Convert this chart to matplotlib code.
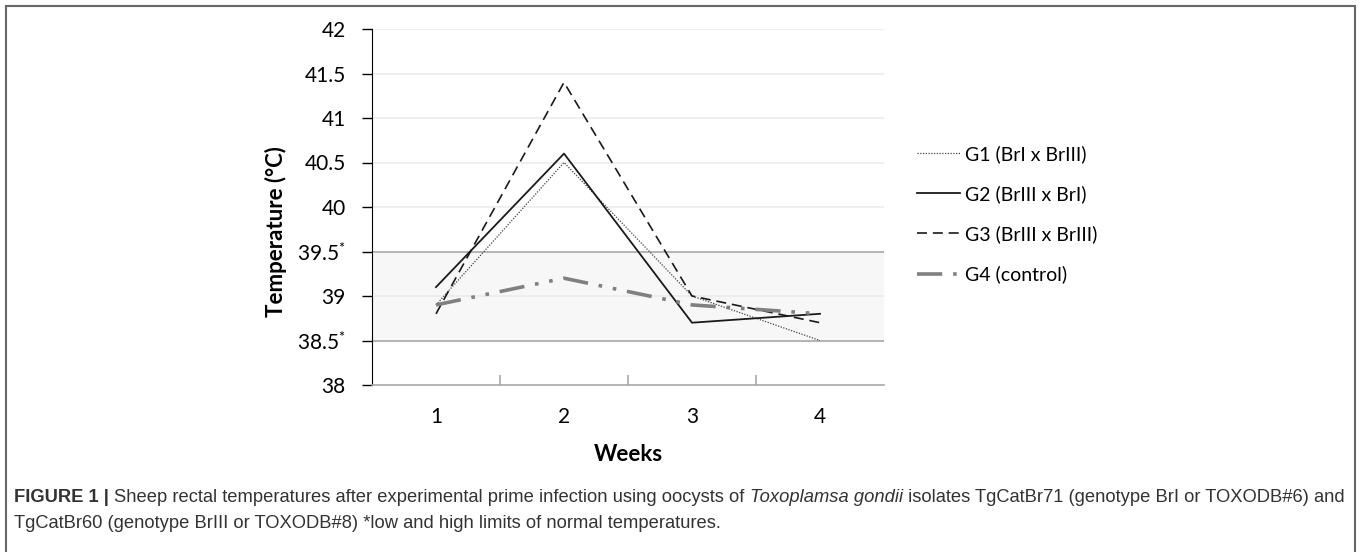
import matplotlib
matplotlib.use("Agg")
import matplotlib.pyplot as plt
from matplotlib.patches import Rectangle

# chart values
weeks = [1, 2, 3, 4]
g1 = [38.9, 40.5, 39.0, 38.5]
g2 = [39.1, 40.6, 38.7, 38.8]
g3 = [38.8, 41.4, 39.0, 38.7]
g4 = [38.9, 39.2, 38.9, 38.8]
labels = ["G1 (BrI x BrIII)", "G2 (BrIII x BrI)", "G3 (BrIII x BrIII)", "G4 (control)"]
yticks = [38, 38.5, 39, 39.5, 40, 40.5, 41, 41.5, 42]
ytick_labels = ["38", "38.5$^{*}$", "39", "39.5$^{*}$", "40", "40.5", "41", "41.5", "42"]
normal_low, normal_high = 38.5, 39.5

plt.rcParams['font.family'] = ['Lato', 'DejaVu Sans']
plt.rcParams['mathtext.default'] = 'regular'

W, H = 1360, 552
fig = plt.figure(figsize=(W / 100, H / 100), dpi=100)
ax = fig.add_axes([372 / W, 1 - 385 / H, 512 / W, 356 / H])

# normal range band
ax.axhspan(normal_low, normal_high, color='#f7f7f7', zorder=0)
for y in yticks:
    if y in (normal_low, normal_high):
        ax.axhline(y, color='#a8a8a8', lw=1.2, zorder=1)
    elif y != 38:
        ax.axhline(y, color='#ececec', lw=1.2, zorder=1)

ax.plot(weeks, g1, color='#444444', lw=0.9, linestyle=(0, (1, 1.2)), label=labels[0], zorder=3)
ax.plot(weeks, g2, color='#1a1a1a', lw=1.3, linestyle='-', label=labels[1], zorder=3)
ax.plot(weeks, g3, color='#1a1a1a', lw=1.2, linestyle=(0, (6, 3.5)), label=labels[2], zorder=3)
ax.plot(weeks, g4, color='#808080', lw=2.6, linestyle=(0, (7, 3, 1, 3, 1, 3)), label=labels[3], zorder=3)

ax.set_xlim(0.5, 4.5)
ax.set_ylim(38, 42)
ax.set_yticks(yticks)
ax.set_yticklabels(ytick_labels)
ax.set_xticks(weeks)
ax.set_xticks([1.5, 2.5, 3.5], minor=True)
ax.tick_params(axis='x', which='major', length=0, pad=16, labelsize=15)
ax.tick_params(axis='x', which='minor', direction='in', length=7, color='#a8a8a8', width=1.2)
ax.tick_params(axis='y', direction='out', length=7, width=1, labelsize=15, pad=12)

for side in ('top', 'right'):
    ax.spines[side].set_visible(False)
ax.spines['left'].set_color('black')
ax.spines['bottom'].set_color('#a8a8a8')
ax.spines['bottom'].set_linewidth(1.2)

ax.set_xlabel('Weeks', fontsize=16, fontweight='bold')
ax.xaxis.set_label_coords(0.5, -0.165)
ax.set_ylabel('Temperature (°C)', fontsize=16, fontweight='bold')
ax.yaxis.set_label_coords(-0.166, 0.43)

leg = ax.legend(loc='center left', bbox_to_anchor=(1.064, 0.48), frameon=False,
                borderpad=0, borderaxespad=0,
                fontsize=14, handlelength=2.2, labelspacing=1.15, handletextpad=0.3)

# outer frame
fig.patches.append(Rectangle((6 / W, -0.05), 1349 / W, 1 - 6 / H + 0.05,
                             transform=fig.transFigure, fill=False,
                             edgecolor='#666666', lw=1.5))

# caption, written piece by piece so the italic name sits inline
cap_font = ['Liberation Sans', 'DejaVu Sans']
cap_size = 13.2
cap_color = '#333333'


def put_line(parts, y):
    x = 14
    for txt, weight, style in parts:
        t = fig.text(x / W, 1 - y / H, txt, fontsize=cap_size, fontweight=weight,
                     style=style, family=cap_font, va='center', color=cap_color)
        fig.canvas.draw()
        x = t.get_window_extent().x1


put_line([('FIGURE 1 | ', 'bold', 'normal'),
          ('Sheep rectal temperatures after experimental prime infection using oocysts of ', 'normal', 'normal'),
          ('Toxoplamsa gondii', 'normal', 'italic'),
          (' isolates TgCatBr71 (genotype BrI or TOXODB#6) and', 'normal', 'normal')], 498)
put_line([('TgCatBr60 (genotype BrIII or TOXODB#8) *low and high limits of normal temperatures.',
           'normal', 'normal')], 523)

fig.savefig('out.png', dpi=100)
